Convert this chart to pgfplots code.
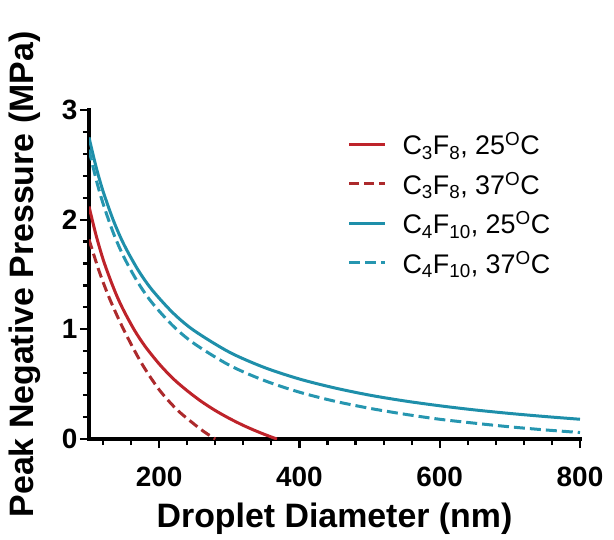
\documentclass[border=0pt]{standalone}
\usepackage{fontspec}
\setmainfont{Liberation Sans}
\usepackage{pgfplots}
\pgfplotsset{compat=1.18}

\definecolor{cthree}{RGB}{190,35,42}
\definecolor{cthreed}{RGB}{172,42,44}
\definecolor{cfour}{RGB}{30,143,170}
\definecolor{cfourd}{RGB}{38,150,176}

\begin{document}
\begin{tikzpicture}
\useasboundingbox (0,0) rectangle (614bp,540bp);
\begin{axis}[
  at={(89bp,101bp)},anchor=south west,
  scale only axis,width=491bp,height=329bp,
  xmin=100,xmax=800,ymin=0,ymax=3,
  axis x line*=bottom,axis y line*=left,
  axis line style={line width=3bp,line cap=rect},
  xtick={200,400,600,800},ytick={0,1,2,3},
  minor xtick={120,160,240,280,320,360,440,480,520,560,640,680,720,760},
  minor ytick={0.2,0.4,0.6,0.8,1.2,1.4,1.6,1.8,2.2,2.4,2.6,2.8},
  tick align=outside,
  major tick length=9bp,minor tick length=6bp,
  every tick/.style={black,line width=2.2bp},
  /pgf/number format/assume math mode=true,
  tick label style={font=\fontsize{28}{30}\selectfont\bfseries},
  xticklabel style={anchor=base,yshift=-38bp},
  yticklabel style={anchor=east,xshift=1bp},
  xlabel={Droplet Diameter (nm)},
  ylabel={Peak Negative Pressure (MPa)},
  label style={font=\fontsize{34}{36}\selectfont\bfseries},
  xlabel style={at={(axis description cs:0.5,-0.2705)},anchor=base},
  ylabel style={at={(axis description cs:-0.13,0.5)},anchor=center},
  legend cell align=left,
  legend style={draw=none,fill=none,at={(0.52,0.945)},anchor=north west,
    font=\fontsize{27}{29}\selectfont,row sep=12bp,
    /tikz/every odd column/.append style={column sep=14bp}},
  legend image code/.code={\draw[#1] (0bp,0bp) -- (36bp,0bp);},
]
\addplot[cthree,line width=3bp,smooth] coordinates {
  (100,2.12) (110,1.86) (120,1.64) (130,1.46) (140,1.30) (150,1.165)
  (165,0.99) (180,0.845) (200,0.685) (220,0.55) (240,0.44) (260,0.343)
  (280,0.26) (300,0.188) (320,0.124) (340,0.068) (360,0.018) (368,0.0)};
\addlegendentry{C\textsubscript{3}F\textsubscript{8}, 25\textsuperscript{O}C}
\addplot[cthreed,line width=3bp,dash pattern=on 10bp off 5bp,smooth] coordinates {
  (100,1.82) (115,1.52) (130,1.27) (150,0.99) (175,0.69) (200,0.45)
  (225,0.27) (250,0.135) (265,0.062) (280,0.0)};
\addlegendentry{C\textsubscript{3}F\textsubscript{8}, 37\textsuperscript{O}C}
\addplot[cfour,line width=3bp,smooth] coordinates {
  (100,2.75) (110,2.483) (120,2.26) (135,1.989) (150,1.771) (170,1.541)
  (190,1.359) (220,1.148) (250,0.988) (300,0.792) (350,0.652) (400,0.547)
  (450,0.466) (500,0.40) (550,0.347) (600,0.303) (650,0.265) (700,0.233)
  (750,0.205) (800,0.18)};
\addlegendentry{C\textsubscript{4}F\textsubscript{10}, 25\textsuperscript{O}C}
\addplot[cfourd,line width=3bp,dash pattern=on 11bp off 5bp,smooth] coordinates {
  (100,2.639) (110,2.371) (120,2.148) (135,1.874) (150,1.656) (170,1.425)
  (190,1.242) (220,1.03) (250,0.87) (300,0.673) (350,0.533) (400,0.427)
  (450,0.345) (500,0.28) (550,0.226) (600,0.18) (650,0.144) (700,0.111)
  (750,0.083) (800,0.059)};
\addlegendentry{C\textsubscript{4}F\textsubscript{10}, 37\textsuperscript{O}C}
\end{axis}
\end{tikzpicture}
\end{document}
